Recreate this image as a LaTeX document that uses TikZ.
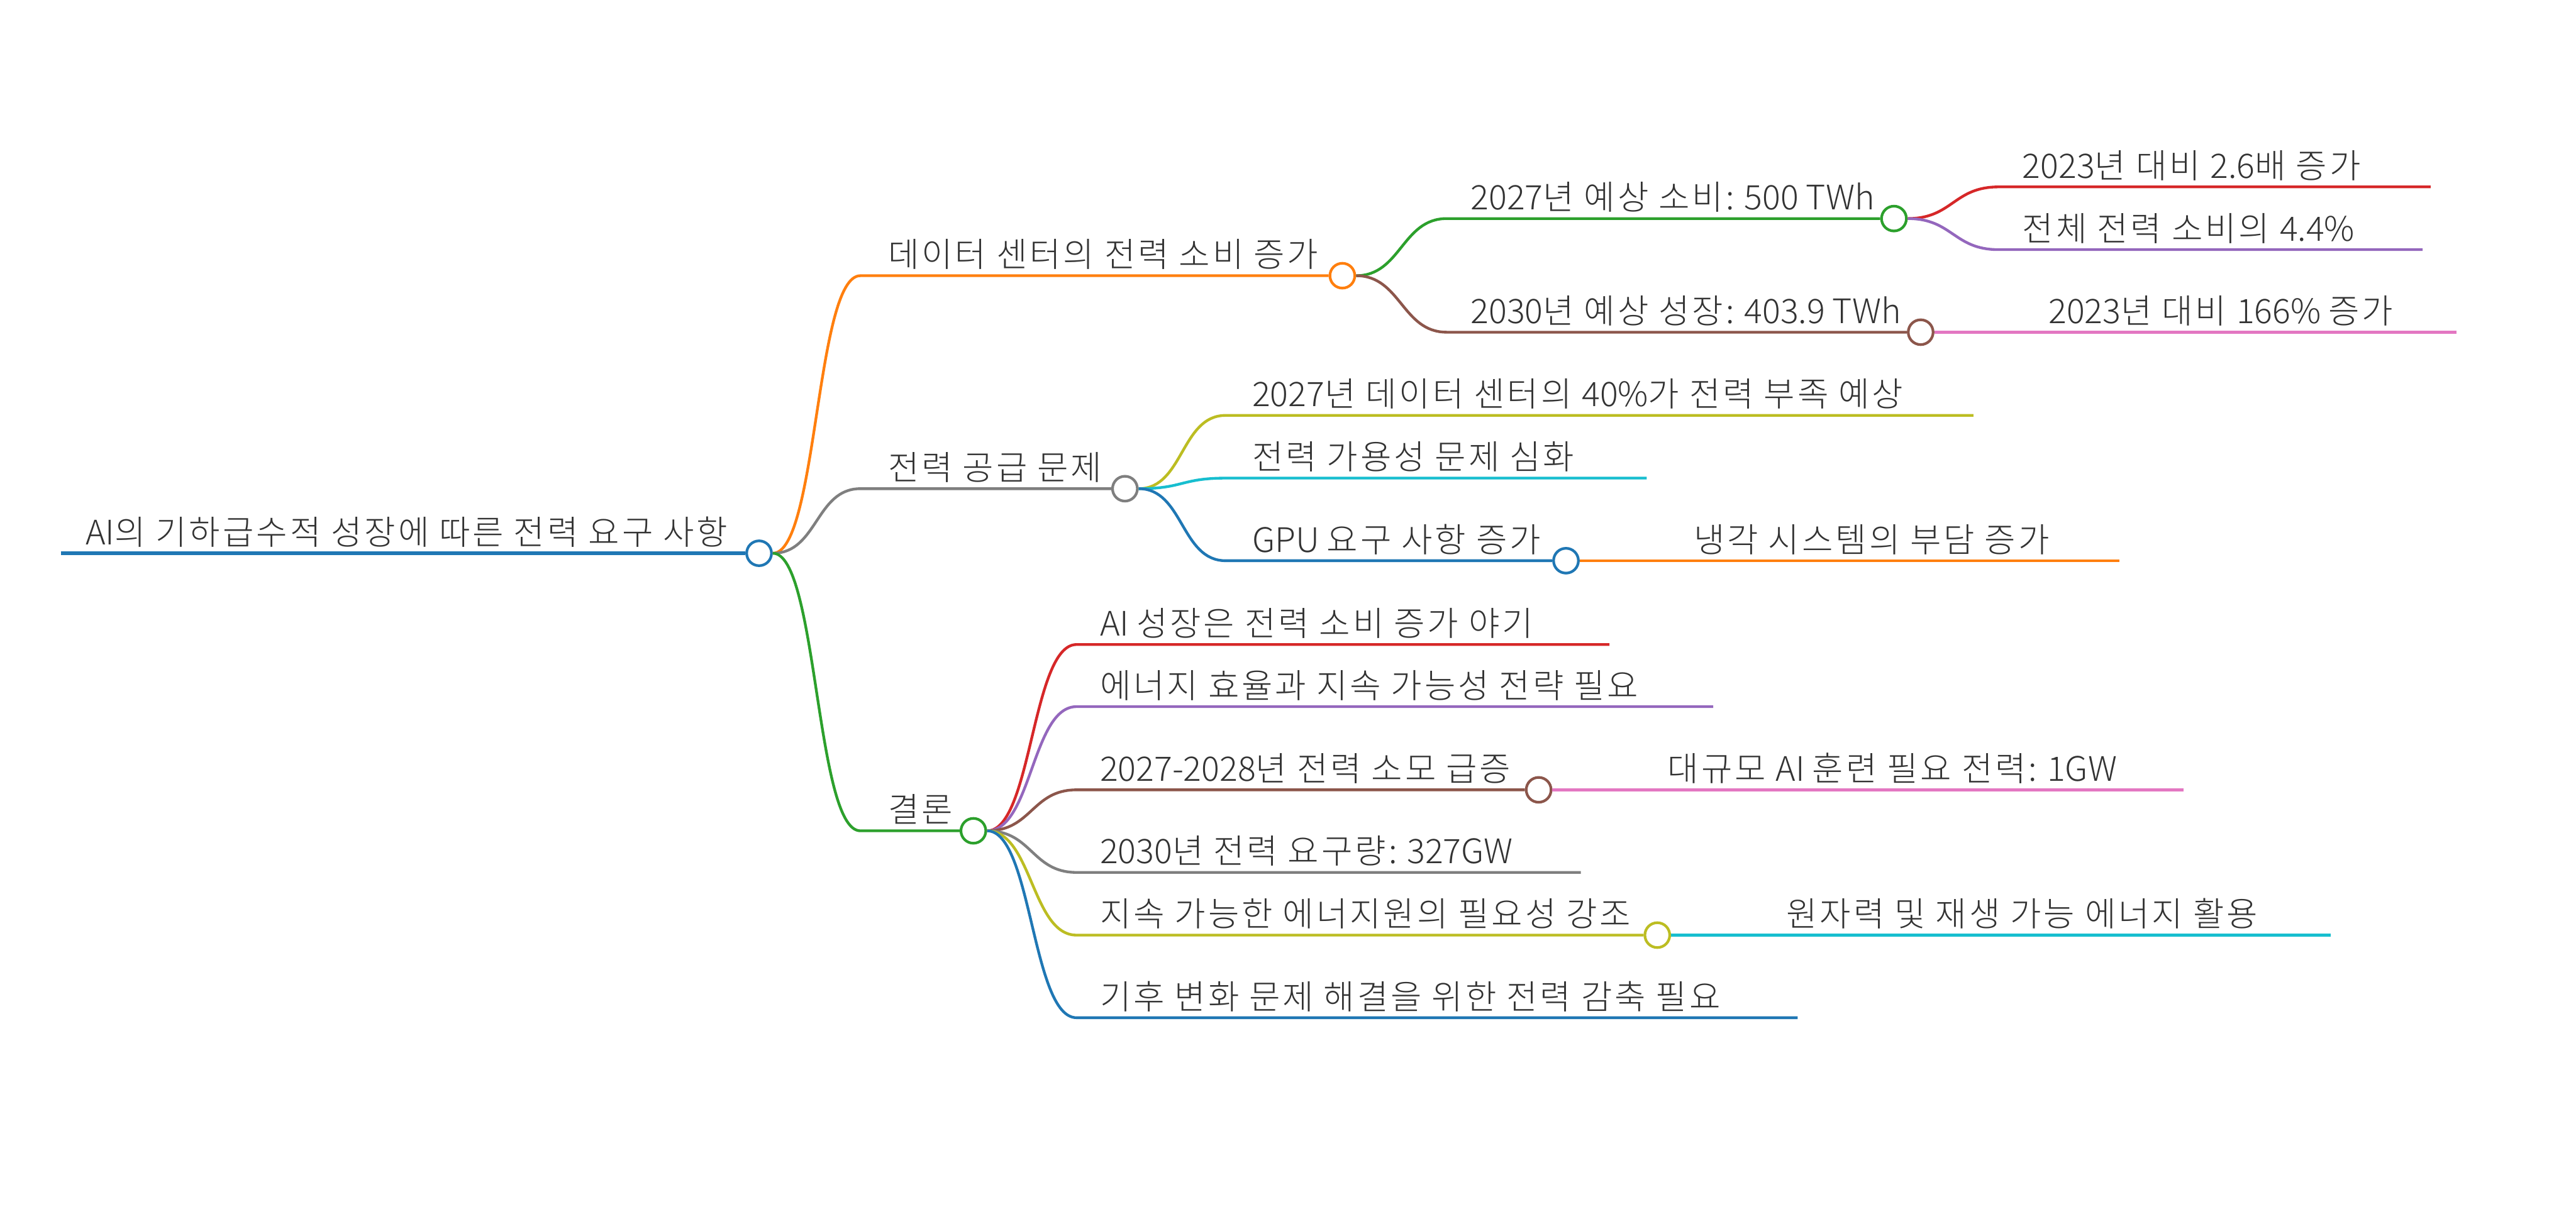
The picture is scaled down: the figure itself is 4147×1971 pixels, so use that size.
\documentclass[tikz,border=0pt]{standalone}
\usepackage{fontspec}
\IfFontExistsTF{Noto Sans CJK KR Light}
  {\setmainfont{Noto Sans CJK KR Light}}
  {\setmainfont{Noto Sans CJK KR}}
% a little air after each Hangul syllable
\XeTeXinterchartokenstate=1
\newXeTeXintercharclass\hgclass
\count255="AC00
\loop
  \XeTeXcharclass\count255=\hgclass
  \ifnum\count255<"D7A3 \advance\count255 by 1 \repeat
\XeTeXinterchartoks\hgclass\hgclass={\kern1pt\relax}
\XeTeXinterchartoks\hgclass 0={\kern1pt\relax}
\XeTeXinterchartoks\hgclass 4095={\kern1pt\relax}
\definecolor{mmblue}{HTML}{1F77B4}
\definecolor{mmorange}{HTML}{FF7F0E}
\definecolor{mmgreen}{HTML}{2CA02C}
\definecolor{mmred}{HTML}{D62728}
\definecolor{mmpurple}{HTML}{9467BD}
\definecolor{mmbrown}{HTML}{8C564B}
\definecolor{mmpink}{HTML}{E377C2}
\definecolor{mmgray}{HTML}{7F7F7F}
\definecolor{mmolive}{HTML}{BCBD22}
\definecolor{mmcyan}{HTML}{17BECF}
\definecolor{mmink}{HTML}{333333}
\tikzset{
  mmtext/.style={anchor=base west, inner sep=0pt, text=mmink, font=\fontsize{13.6}{16}\selectfont},
  hub/.style={circle, draw=#1, fill=white, line width=1.07pt, minimum size=10pt, inner sep=0pt},
  twig/.style={draw=#1, line width=1.1pt, out=0, in=180, distance=18pt},
}
\begin{document}
\begin{tikzpicture}[x=0.25pt, y=-0.25pt]
  \useasboundingbox[fill=white] (0,0) rectangle (4147,1971);
  % root
  \coordinate (r0) at (98,891);
  \node[hub=mmblue] (r) at (1222,891) {};
  \draw[twig=mmblue, line width=1.5pt] (r0) -- (r.west);
  \node[mmtext] (rt) at (137,877) {AI의 기하급수적 성장에 따른 전력 요구 사항};

  % data centre branch
  \coordinate (a0) at (1385,444);
  \node[hub=mmorange] (a) at (2161,444) {};
  \draw[twig=mmorange] (r.east) to (a0) -- (a.west);
  \node[mmtext] (at) at (1429,430) {데이터 센터의 전력 소비 증가};

  \coordinate (a10) at (2329,352);
  \node[hub=mmgreen] (a1) at (3049,352) {};
  \draw[twig=mmgreen] (a.east) to (a10) -- (a1.west);
  \node[mmtext] (a1t) at (2367,338) {2027년 예상 소비: 500 TWh};

  \coordinate (a110) at (3217,301);
  \coordinate (a111) at (3913,301);
  \draw[twig=mmred] (a1.east) to (a110) -- (a111);
  \node[mmtext] (a11t) at (3255,287) {2023년 대비 2.6배 증가};

  \coordinate (a120) at (3217,402);
  \coordinate (a121) at (3900,402);
  \draw[twig=mmpurple] (a1.east) to (a120) -- (a121);
  \node[mmtext] (a12t) at (3255,388) {전체 전력 소비의 4.4\%};

  \coordinate (a20) at (2329,535);
  \node[hub=mmbrown] (a2) at (3092,535) {};
  \draw[twig=mmbrown] (a.east) to (a20) -- (a2.west);
  \node[mmtext] (a2t) at (2367,521) {2030년 예상 성장: 403.9 TWh};

  \coordinate (a210) at (3260,535);
  \coordinate (a211) at (3955,535);
  \draw[twig=mmpink] (a2.east) to (a210) -- (a211);
  \node[mmtext] (a21t) at (3297,521) {2023년 대비 166\% 증가};

  % supply branch
  \coordinate (b0) at (1385,787);
  \node[hub=mmgray] (b) at (1811,787) {};
  \draw[twig=mmgray] (r.east) to (b0) -- (b.west);
  \node[mmtext] (bt) at (1429,773) {전력 공급 문제};

  \coordinate (b10) at (1973,669);
  \coordinate (b11) at (3177,669);
  \draw[twig=mmolive] (b.east) to (b10) -- (b11);
  \node[mmtext] (b1t) at (2015,655) {2027년 데이터 센터의 40\%가 전력 부족 예상};

  \coordinate (b20) at (1973,770);
  \coordinate (b21) at (2651,770);
  \draw[twig=mmcyan] (b.east) to (b20) -- (b21);
  \node[mmtext] (b2t) at (2015,756) {전력 가용성 문제 심화};

  \coordinate (b30) at (1973,903);
  \node[hub=mmblue] (b3) at (2521,903) {};
  \draw[twig=mmblue] (b.east) to (b30) -- (b3.west);
  \node[mmtext] (b3t) at (2015,889) {GPU 요구 사항 증가};

  \coordinate (b310) at (2688,903);
  \coordinate (b311) at (3412,903);
  \draw[twig=mmorange] (b3.east) to (b310) -- (b311);
  \node[mmtext] (b31t) at (2726,889) {냉각 시스템의 부담 증가};

  % conclusion branch
  \coordinate (c0) at (1385,1338);
  \node[hub=mmgreen] (c) at (1567,1338) {};
  \draw[twig=mmgreen] (r.east) to (c0) -- (c.west);
  \node[mmtext] (ct) at (1429,1324) {결론};

  \coordinate (c10) at (1733,1038);
  \coordinate (c11) at (2591,1038);
  \draw[twig=mmred] (c.east) to (c10) -- (c11);
  \node[mmtext] (c1t) at (1770,1024) {AI 성장은 전력 소비 증가 야기};

  \coordinate (c20) at (1733,1138);
  \coordinate (c21) at (2758,1138);
  \draw[twig=mmpurple] (c.east) to (c20) -- (c21);
  \node[mmtext] (c2t) at (1770,1124) {에너지 효율과 지속 가능성 전략 필요};

  \coordinate (c30) at (1733,1272);
  \node[hub=mmbrown] (c3) at (2477,1272) {};
  \draw[twig=mmbrown] (c.east) to (c30) -- (c3.west);
  \node[mmtext] (c3t) at (1770,1258) {2027-2028년 전력 소모 급증};

  \coordinate (c310) at (2642,1272);
  \coordinate (c311) at (3515,1272);
  \draw[twig=mmpink] (c3.east) to (c310) -- (c311);
  \node[mmtext] (c31t) at (2684,1258) {대규모 AI 훈련 필요 전력: 1GW};

  \coordinate (c40) at (1733,1405);
  \coordinate (c41) at (2545,1405);
  \draw[twig=mmgray] (c.east) to (c40) -- (c41);
  \node[mmtext] (c4t) at (1770,1391) {2030년 전력 요구량: 327GW};

  \coordinate (c50) at (1733,1506);
  \node[hub=mmolive] (c5) at (2668,1506) {};
  \draw[twig=mmolive] (c.east) to (c50) -- (c5.west);
  \node[mmtext] (c5t) at (1770,1492) {지속 가능한 에너지원의 필요성 강조};

  \coordinate (c510) at (2833,1506);
  \coordinate (c511) at (3752,1506);
  \draw[twig=mmcyan] (c5.east) to (c510) -- (c511);
  \node[mmtext] (c51t) at (2875,1492) {원자력 및 재생 가능 에너지 활용};

  \coordinate (c60) at (1733,1639);
  \coordinate (c61) at (2894,1639);
  \draw[twig=mmblue] (c.east) to (c60) -- (c61);
  \node[mmtext] (c6t) at (1770,1625) {기후 변화 문제 해결을 위한 전력 감축 필요};
\end{tikzpicture}
\end{document}
